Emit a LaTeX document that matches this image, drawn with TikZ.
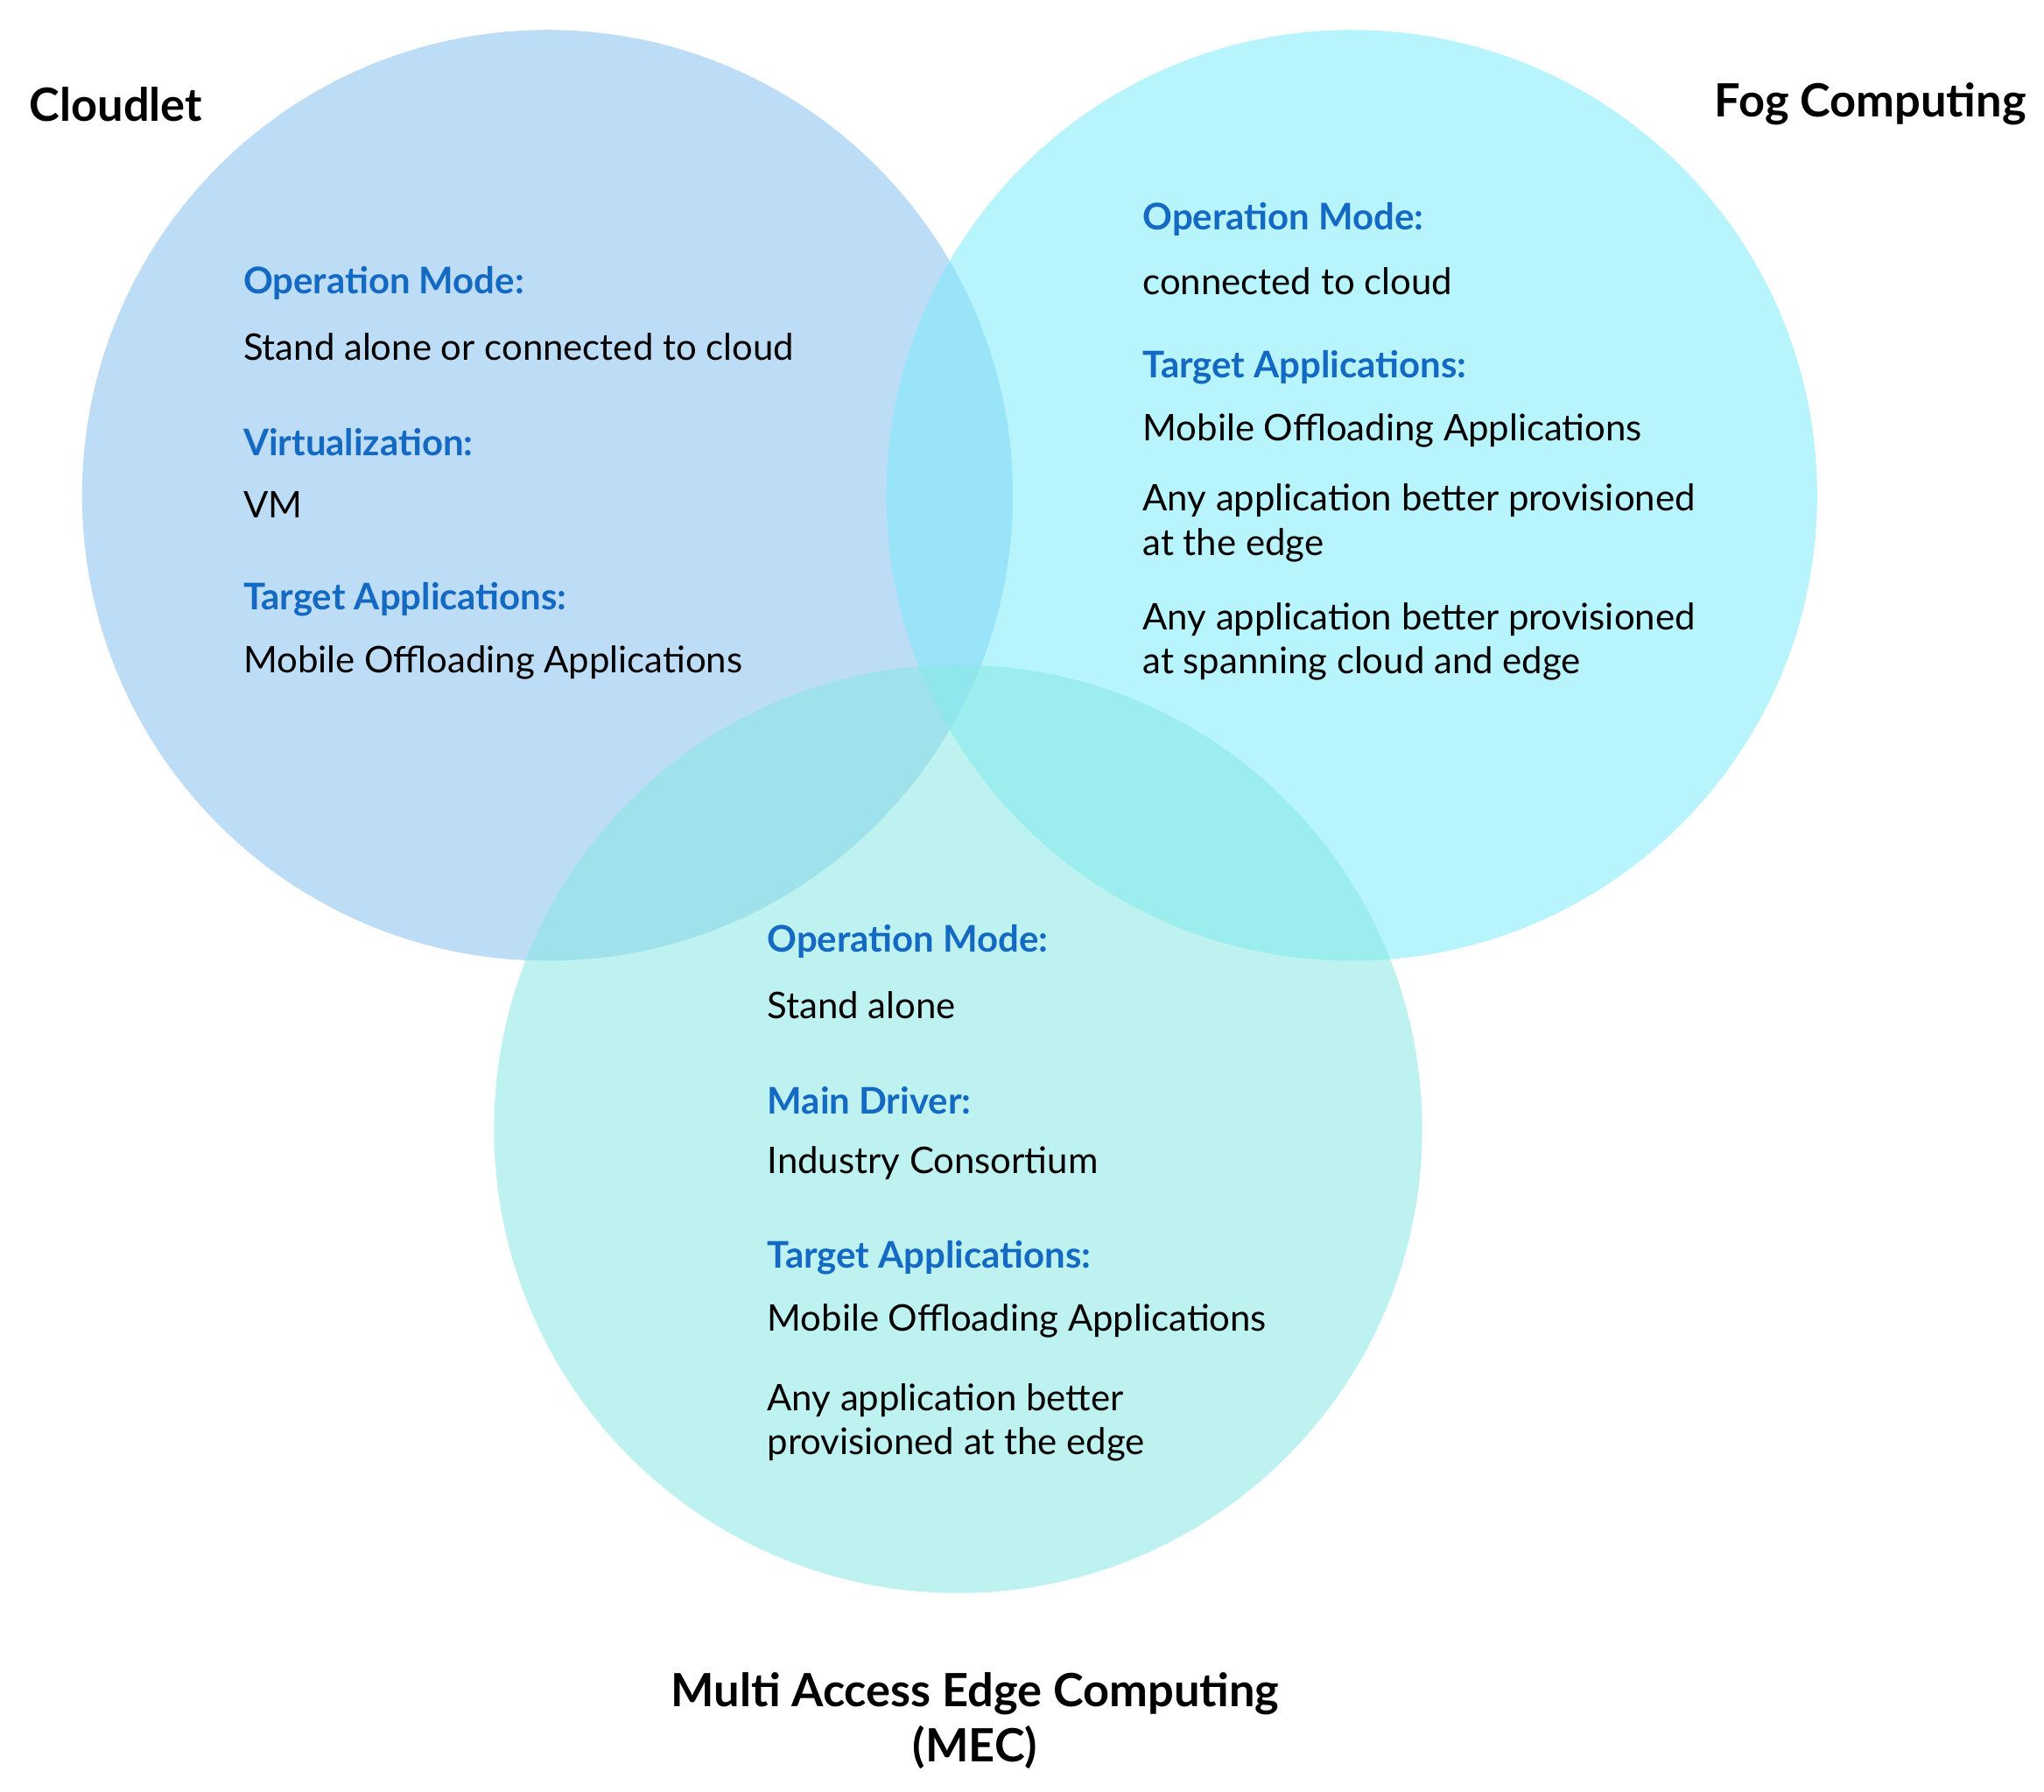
\documentclass[tikz,border=0pt]{standalone}
\usepackage{fontspec}
\setmainfont{Lato}
\begin{document}
\begin{tikzpicture}[x=0.01cm,y=-0.01cm,
  circ/.style={draw=none,fill opacity=0.55},
  hd/.style={anchor=west,inner sep=0,text=blue!55!cyan!70!black,font=\fontsize{8}{9.6}\selectfont\bfseries},
  tx/.style={anchor=west,inner sep=0,font=\fontsize{8}{9.6}\selectfont},
  ttl/.style={inner sep=0,font=\fontsize{10}{12}\selectfont\bfseries}]
\definecolor{cA}{RGB}{135,192,240}
\definecolor{cB}{RGB}{125,235,250}
\definecolor{cC}{RGB}{135,232,228}
\definecolor{hb}{RGB}{20,105,195}
\useasboundingbox (0,0) rectangle (1568,1374);
\fill[white] (0,0) rectangle (1568,1374);
\fill[circ,cA] (420,380) circle (357) coordinate (cl);
\fill[circ,cB] (1037,380) circle (357);
\fill[circ,cC] (735,866) circle (356);
\node[ttl,anchor=west] (t1) at (22,80) {Cloudlet};
\node[ttl,anchor=east] (t2) at (1555,80) {Fog Computing};
\node[ttl,align=center] (t3) at (748,1320) {Multi Access Edge Computing\\(MEC)};
\tikzset{hd/.append style={text=hb}}
\node[hd] (a1) at (186,217) {Operation Mode:};
\node[tx] (a2) at (186,266) {Stand alone or connected to cloud};
\node[hd] (a3) at (186,339) {Virtualization:};
\node[tx] (a4) at (186,387) {VM};
\node[hd] (a5) at (186,460) {Target Applications:};
\node[tx] (a6) at (186,508) {Mobile Offloading Applications};
\node[hd] (b1) at (876,168) {Operation Mode:};
\node[tx] (b2) at (876,216) {connected to cloud};
\node[hd] (b3) at (876,282) {Target Applications:};
\node[tx] (b4) at (876,330) {Mobile Offloading Applications};
\node[tx] (b5) at (876,384) {Any application better provisioned};
\node[tx] (b6) at (876,418) {at the edge};
\node[tx] (b7) at (876,475) {Any application better provisioned};
\node[tx] (b8) at (876,509) {at spanning cloud and edge};
\node[hd] (c1) at (588,722) {Operation Mode:};
\node[tx] (c2) at (588,771) {Stand alone};
\node[hd] (c3) at (588,844) {Main Driver:};
\node[tx] (c4) at (588,892) {Industry Consortium};
\node[hd] (c5) at (588,965) {Target Applications:};
\node[tx] (c6) at (588,1013) {Mobile Offloading Applications};
\node[tx] (c7) at (588,1074) {Any application better};
\node[tx] (c8) at (588,1108) {provisioned at the edge};
\end{tikzpicture}
\end{document}
